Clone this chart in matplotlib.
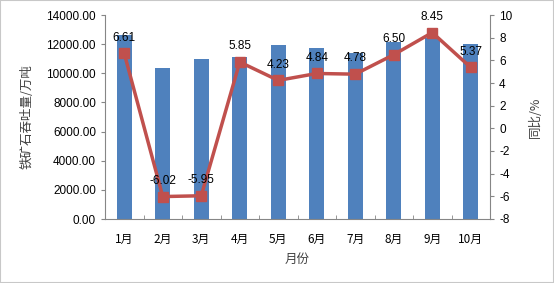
import numpy as np
import matplotlib
matplotlib.use('Agg')
import matplotlib.pyplot as plt
from matplotlib.patches import Rectangle

plt.rcParams['font.family'] = ['Liberation Sans', 'Noto Sans CJK SC', 'DejaVu Sans']
plt.rcParams['axes.unicode_minus'] = False

months  = ['1月', '2月', '3月', '4月', '5月', '6月', '7月', '8月', '9月', '10月']
volume  = [12630, 10380, 10980, 11100, 11920, 11710, 11370, 12170, 12420, 11990]  # 万吨
yoy     = [6.61, -6.02, -5.95, 5.85, 4.23, 4.84, 4.78, 6.50, 8.45, 5.37]  # %
yoy_lbl = ['6.61', '-6.02', '-5.95', '5.85', '4.23', '4.84', '4.78', '6.50', '8.45', '5.37']

bar_c  = '#4F81BD'
line_c = '#C0504D'
axis_c = '#868686'

fig = plt.figure(figsize=(5.54, 2.83), dpi=100)
ax = fig.add_axes([105/554, 1-219/283, (490-105)/554, (219-15)/283])
x = np.arange(len(months))

ax.bar(x, volume, width=0.39, color=bar_c, zorder=2)
ax.set_xlim(-0.5, len(months)-0.5)
ax.set_ylim(0, 14000)
ax.set_yticks(np.arange(0, 14001, 2000))
ax.set_yticklabels(['%.2f' % v for v in np.arange(0, 14001, 2000)], fontsize=8.5)
ax.set_xticks(x)
ax.set_xticklabels(months, fontsize=8.5, family=['Noto Sans CJK SC', 'DejaVu Sans'])
ax.set_xticks(np.arange(-0.5, len(months)), minor=True)
ax.tick_params(axis='x', which='major', length=0, pad=10)
ax.tick_params(axis='x', which='minor', direction='in', length=3, color=axis_c)
ax.tick_params(axis='y', direction='out', length=3, color=axis_c)
for s in ['top', 'right']:
    ax.spines[s].set_visible(False)
for s in ['left', 'bottom']:
    ax.spines[s].set_color(axis_c)
ax.set_ylabel('铁矿石吞吐量/万吨', fontsize=9, family=['Noto Sans CJK SC'], color='#404040', labelpad=9)
ax.set_xlabel('月份', fontsize=9, family=['Noto Sans CJK SC'], color='#404040', labelpad=5)

ax2 = ax.twinx()
ax2.plot(x, yoy, color=line_c, lw=2.5, marker='s', ms=7, zorder=3)
ax2.set_ylim(-8, 10)
ax2.set_yticks(np.arange(-8, 11, 2))
ax2.tick_params(axis='y', direction='out', length=3, color=axis_c, labelsize=8.5)
for s in ['top', 'left', 'bottom']:
    ax2.spines[s].set_visible(False)
ax2.spines['right'].set_color(axis_c)
ax2.set_ylabel('同比/%', fontsize=9, family=['Noto Sans CJK SC'], color='#404040', rotation=90, labelpad=12)

for xi, v, t in zip(x, yoy, yoy_lbl):
    ax2.annotate(t, (xi, v), xytext=(0, 7), textcoords='offset points', ha='center', va='bottom', fontsize=8.5)

fig.patches.append(Rectangle((0, 0), 1, 1, transform=fig.transFigure, fill=False,
                             edgecolor='#c8c8c8', lw=1.5))
fig.savefig('out.png', dpi=100)
